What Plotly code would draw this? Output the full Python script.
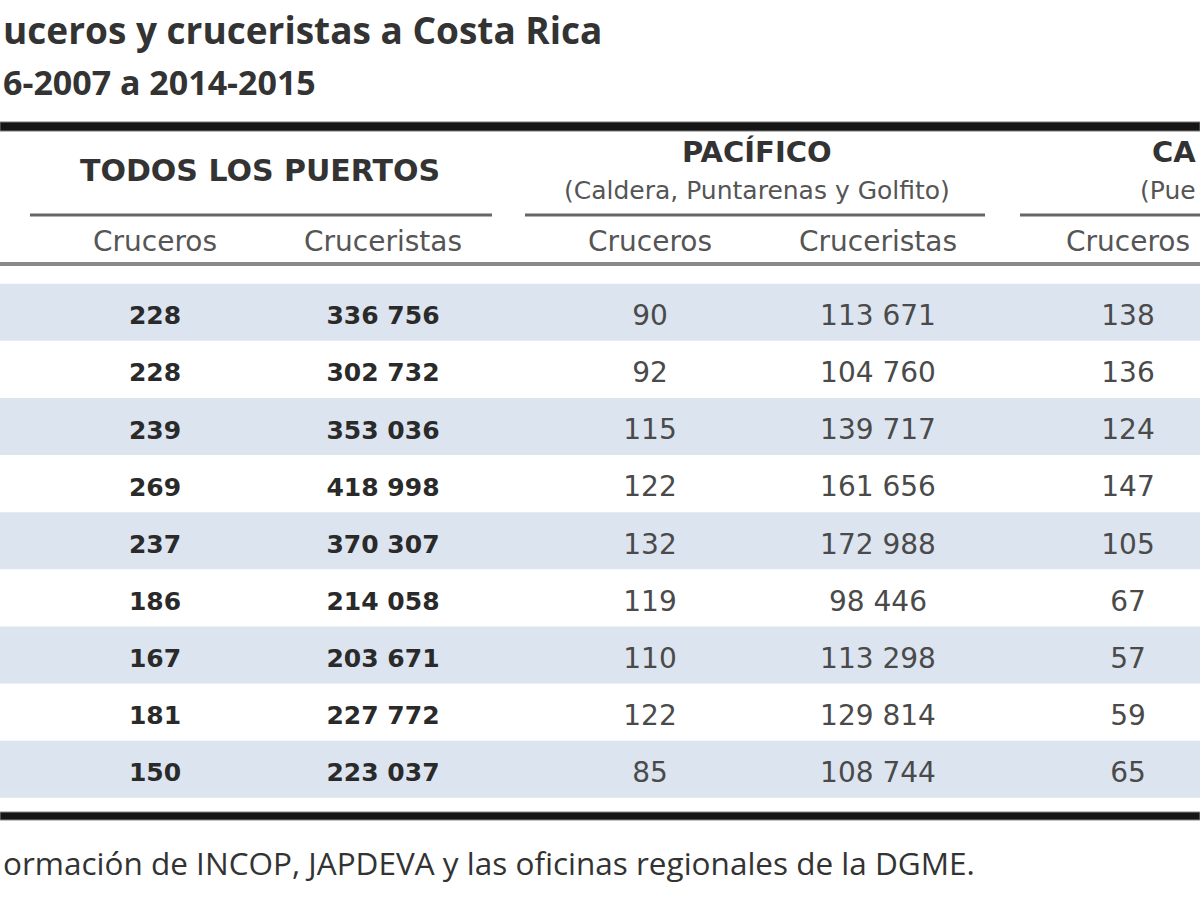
import plotly.graph_objects as go

# ---- data ----
temporadas = ["2006-2007", "2007-2008", "2008-2009", "2009-2010", "2010-2011",
              "2011-2012", "2012-2013", "2013-2014", "2014-2015"]
todos_cruceros = [228, 228, 239, 269, 237, 186, 167, 181, 150]
todos_cruceristas = [336756, 302732, 353036, 418998, 370307, 214058, 203671, 227772, 223037]
pacifico_cruceros = [90, 92, 115, 122, 132, 119, 110, 122, 85]
pacifico_cruceristas = [113671, 104760, 139717, 161656, 172988, 98446, 113298, 129814, 108744]
caribe_cruceros = [138, 136, 124, 147, 105, 67, 57, 59, 65]

title_text = "uceros y cruceristas a Costa Rica"
subtitle_text = "6-2007 a 2014-2015"
footer_text = "ormación de INCOP, JAPDEVA y las oficinas regionales de la DGME."
caribe_head = "CA"
caribe_sub = "(Pue"

# ---- layout constants (pixels) ----
W, H = 1200, 900
col_x = [155, 383, 650, 878, 1128]
row0_px, row_step = 318, 57.125
TABLE_FONT = "DejaVu Sans"
TITLE_FONT = "Open Sans"
BLUE = "#dce4ef"


def fmt(v):
    return f"{v:,}".replace(",", " ")


def py(p):
    return 1 - p / H


fig = go.Figure()

columns = [
    (todos_cruceros, True),
    (todos_cruceristas, True),
    (pacifico_cruceros, False),
    (pacifico_cruceristas, False),
    (caribe_cruceros, False),
]
for (vals, bold), cx in zip(columns, col_x):
    fig.add_trace(go.Scatter(
        x=[cx] * len(vals), y=temporadas, mode="text",
        text=[fmt(v) for v in vals],
        textposition="middle center",
        textfont=dict(family=TABLE_FONT, size=25 if bold else 28,
                      color="#2a2a2a" if bold else "#4a4a4a",
                      weight="bold" if bold else "normal"),
        hoverinfo="skip", showlegend=False,
    ))

shapes = []
# alternate row bands
for i in range(len(temporadas)):
    if i % 2 == 0:
        shapes.append(dict(type="rect", xref="paper", yref="y",
                           x0=0, x1=1, y0=i - 0.6, y1=i + 0.4,
                           fillcolor=BLUE, line=dict(width=0), layer="below"))
# top thick rule
shapes.append(dict(type="rect", xref="paper", yref="paper", x0=0, x1=1,
                   y0=py(131), y1=py(122), fillcolor="#151515",
                   line=dict(color="#777", width=1)))
# group underlines
for x0, x1 in [(30, 492), (525, 985), (1020, 1200)]:
    shapes.append(dict(type="line", xref="x", yref="paper", x0=x0, x1=x1,
                       y0=py(215), y1=py(215), line=dict(color="#666", width=3)))
# header bottom rule
shapes.append(dict(type="rect", xref="paper", yref="paper", x0=0, x1=1,
                   y0=py(266), y1=py(262), fillcolor="#8a8a8a",
                   line=dict(width=0)))
# bottom thick rule
shapes.append(dict(type="rect", xref="paper", yref="paper", x0=0, x1=1,
                   y0=py(820), y1=py(812), fillcolor="#151515",
                   line=dict(color="#888", width=1)))

ann = []


def add(text, x, ypx, size, color, bold=False, family=TABLE_FONT, xanchor="center"):
    ann.append(dict(text=text, x=x, y=py(ypx), xref="x", yref="paper",
                    xanchor=xanchor, yanchor="middle", showarrow=False,
                    font=dict(family=family, size=size, color=color,
                              weight="bold" if bold else "normal")))


add(title_text, 1, 30, 37, "#333333", bold=True, family=TITLE_FONT, xanchor="left")
add(subtitle_text, 1, 82, 34, "#333333", bold=True, family=TITLE_FONT, xanchor="left")
add("TODOS LOS PUERTOS", 260, 170, 30, "#333333", bold=True)
add("PACÍFICO", 757, 152, 29, "#333333", bold=True)
add("(Caldera, Puntarenas y Golfito)", 757, 190, 25, "#555555")
add(caribe_head, 1198, 152, 29, "#333333", bold=True, xanchor="right")
add(caribe_sub, 1198, 190, 25, "#555555", xanchor="right")
for cx, lab in zip(col_x, ["Cruceros", "Cruceristas", "Cruceros", "Cruceristas", "Cruceros"]):
    add(lab, cx, 241, 28, "#555555")
add(footer_text, 1, 862, 31.5, "#333333", family=TITLE_FONT, xanchor="left")

n = len(temporadas)
fig.update_layout(
    width=W, height=H,
    margin=dict(l=0, r=0, t=0, b=0),
    paper_bgcolor="white", plot_bgcolor="white",
    xaxis=dict(range=[0, W], visible=False, fixedrange=True),
    yaxis=dict(type="category", categoryorder="array", categoryarray=temporadas,
               range=[(n - 1) + (H - (row0_px + (n - 1) * row_step)) / row_step,
                      -row0_px / row_step],
               visible=False, fixedrange=True),
    shapes=shapes, annotations=ann, showlegend=False,
)

fig.write_html("out.html",
               config={"displayModeBar": False},
               post_script="document.body.style.margin='0';document.body.style.overflow='hidden';")
